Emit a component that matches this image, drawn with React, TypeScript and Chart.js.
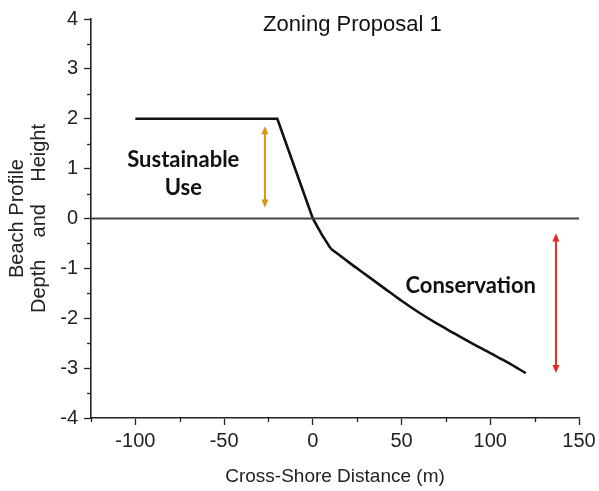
import React, { useEffect, useRef } from 'react';
import { Chart, registerables } from 'chart.js';

Chart.register(...registerables);

// ---- data ----
const PROFILE_X = [-100, -20, 0, 5, 10, 20, 30, 40, 50, 60, 70, 80, 90, 100, 110, 120];
const PROFILE_Y = [2, 2, 0, -0.32, -0.6, -0.87, -1.13, -1.39, -1.65, -1.89, -2.11, -2.31, -2.51, -2.7, -2.89, -3.1];
// index where the straight upper profile meets the smooth offshore curve
const PROFILE_BREAK = 4;

const SEA_LEVEL_X = [-125, 150];
const SEA_LEVEL_Y = [0, 0];

const X_MAJOR_TICKS = [-100, -50, 0, 50, 100, 150];
const X_MINOR_TICKS = [-125, -75, -25, 25, 75, 125];
const Y_MAJOR_TICKS = [-4, -3, -2, -1, 0, 1, 2, 3, 4];
const Y_MINOR_TICKS = [-3.5, -2.5, -1.5, -0.5, 0.5, 1.5, 2.5, 3.5];

const ARROW_X = [-27, 137];
const ARROW_TOP = [1.85, -0.3];
const ARROW_BOTTOM = [0.22, -3.1];
const ARROW_COLORS = ['#D6960F', '#E5281D'];

const ZONE_TEXT = ['Sustainable', 'Use', 'Conservation'];
const ZONE_X = [-73, -73, 89];
const ZONE_Y = [1.18, 0.62, -1.35];

const TITLE = 'Zoning Proposal 1';
const TITLE_X = 22.3;
const TITLE_Y = 3.76;
const X_TITLE = 'Cross-Shore Distance (m)';
const Y_TITLE = ['Beach Profile', 'Depth    and    Height'];

const SANS = "'Liberation Sans', Arial, sans-serif";
const BOLD = "Lato, 'Open Sans', sans-serif";
const AXIS_COLOR = '#222';

const toPoints = (xs: number[], ys: number[]) => xs.map((x, i) => ({ x, y: ys[i] }));

const overlay = {
  id: 'overlay',
  afterDatasetsDraw(chart: any) {
    const { ctx, scales } = chart;
    const xs = scales.x;
    const ys = scales.y;
    ARROW_X.forEach((xv, i) => {
      const px = xs.getPixelForValue(xv);
      const top = ys.getPixelForValue(ARROW_TOP[i]);
      const bot = ys.getPixelForValue(ARROW_BOTTOM[i]);
      const head = 8;
      const hw = 3.5;
      ctx.save();
      ctx.strokeStyle = ARROW_COLORS[i];
      ctx.fillStyle = ARROW_COLORS[i];
      ctx.lineWidth = 2;
      ctx.beginPath();
      ctx.moveTo(px, top + head - 1);
      ctx.lineTo(px, bot - head + 1);
      ctx.stroke();
      ctx.beginPath();
      ctx.moveTo(px, top);
      ctx.lineTo(px - hw, top + head);
      ctx.lineTo(px + hw, top + head);
      ctx.closePath();
      ctx.fill();
      ctx.beginPath();
      ctx.moveTo(px, bot);
      ctx.lineTo(px - hw, bot - head);
      ctx.lineTo(px + hw, bot - head);
      ctx.closePath();
      ctx.fill();
      ctx.restore();
    });
    ctx.save();
    ctx.fillStyle = '#111';
    ctx.font = `bold 22px ${BOLD}`;
    ctx.textAlign = 'center';
    ctx.textBaseline = 'middle';
    ZONE_TEXT.forEach((t, i) => {
      ctx.fillText(t, xs.getPixelForValue(ZONE_X[i]), ys.getPixelForValue(ZONE_Y[i]));
    });
    ctx.fillStyle = '#111';
    ctx.font = `22px ${SANS}`;
    ctx.textBaseline = 'alphabetic';
    ctx.fillText(TITLE, xs.getPixelForValue(TITLE_X), ys.getPixelForValue(TITLE_Y));
    ctx.restore();
  },
  afterDraw(chart: any) {
    const { ctx, scales, chartArea } = chart;
    const xs = scales.x;
    const ys = scales.y;
    ctx.save();
    ctx.strokeStyle = AXIS_COLOR;
    ctx.lineWidth = 1.3;
    X_MINOR_TICKS.forEach((v) => {
      const px = Math.round(xs.getPixelForValue(v)) + 0.5;
      ctx.beginPath();
      ctx.moveTo(px, chartArea.bottom);
      ctx.lineTo(px, chartArea.bottom + 4);
      ctx.stroke();
    });
    Y_MINOR_TICKS.forEach((v) => {
      const py = Math.round(ys.getPixelForValue(v)) + 0.5;
      ctx.beginPath();
      ctx.moveTo(chartArea.left - 4, py);
      ctx.lineTo(chartArea.left, py);
      ctx.stroke();
    });
    ctx.fillStyle = AXIS_COLOR;
    ctx.textAlign = 'center';
    ctx.textBaseline = 'alphabetic';
    ctx.font = `19px ${SANS}`;
    ctx.fillText(X_TITLE, (chartArea.left + chartArea.right) / 2, 482);
    ctx.font = `20px ${SANS}`;
    const cy = (chartArea.top + chartArea.bottom) / 2;
    Y_TITLE.forEach((t, i) => {
      ctx.save();
      ctx.translate(23 + i * 22, cy);
      ctx.rotate(-Math.PI / 2);
      ctx.fillText(t, 0, 0);
      ctx.restore();
    });
    ctx.restore();
  },
};

export default function App() {
  const ref = useRef<HTMLCanvasElement | null>(null);
  useEffect(() => {
    if (!ref.current) return;
    const profile = toPoints(PROFILE_X, PROFILE_Y);
    const chart = new Chart(ref.current, {
      type: 'scatter',
      data: {
        datasets: [
          {
            data: toPoints(SEA_LEVEL_X, SEA_LEVEL_Y),
            showLine: true,
            borderColor: '#444',
            borderWidth: 1.8,
            pointRadius: 0,
          },
          {
            data: profile.slice(0, PROFILE_BREAK + 1),
            showLine: true,
            borderColor: '#111',
            borderWidth: 2.6,
            pointRadius: 0,
            tension: 0,
          },
          {
            data: profile.slice(PROFILE_BREAK),
            showLine: true,
            borderColor: '#111',
            borderWidth: 2.6,
            pointRadius: 0,
            tension: 0.35,
          },
        ],
      },
      options: {
        animation: false,
        responsive: true,
        maintainAspectRatio: false,
        layout: { padding: { top: 19, right: 20, left: 0, bottom: 0 } },
        plugins: { legend: { display: false }, tooltip: { enabled: false } },
        scales: {
          x: {
            type: 'linear',
            min: -125,
            max: 150,
            afterBuildTicks: (s: any) => {
              s.ticks = X_MAJOR_TICKS.map((v) => ({ value: v }));
            },
            afterFit: (s: any) => {
              s.height = 73;
              s.paddingRight = 0;
              s.paddingLeft = 0;
            },
            grid: { drawOnChartArea: false, drawTicks: true, tickLength: 7, tickColor: AXIS_COLOR, tickWidth: 1.3 },
            border: { display: true, color: AXIS_COLOR, width: 1.6 },
            ticks: {
              autoSkip: false,
              maxRotation: 0,
              padding: 6,
              color: AXIS_COLOR,
              font: { family: SANS, size: 20, lineHeight: 1 },
              callback: (v: any) => String(v),
            },
          },
          y: {
            type: 'linear',
            min: -4,
            max: 4,
            afterBuildTicks: (s: any) => {
              s.ticks = Y_MAJOR_TICKS.map((v) => ({ value: v }));
            },
            afterFit: (s: any) => {
              s.width = 91;
              s.paddingTop = 0;
              s.paddingBottom = 0;
            },
            grid: { drawOnChartArea: false, drawTicks: true, tickLength: 7, tickColor: AXIS_COLOR, tickWidth: 1.3 },
            border: { display: true, color: AXIS_COLOR, width: 1.6 },
            ticks: {
              autoSkip: false,
              padding: 6,
              color: AXIS_COLOR,
              font: { family: SANS, size: 20, lineHeight: 1 },
              callback: (v: any) => String(v),
            },
          },
        },
      },
      plugins: [overlay],
    });
    return () => chart.destroy();
  }, []);
  return (
    <div style={{ position: 'absolute', left: 0, top: 0, width: 599, height: 491 }}>
      <canvas ref={ref} />
    </div>
  );
}
